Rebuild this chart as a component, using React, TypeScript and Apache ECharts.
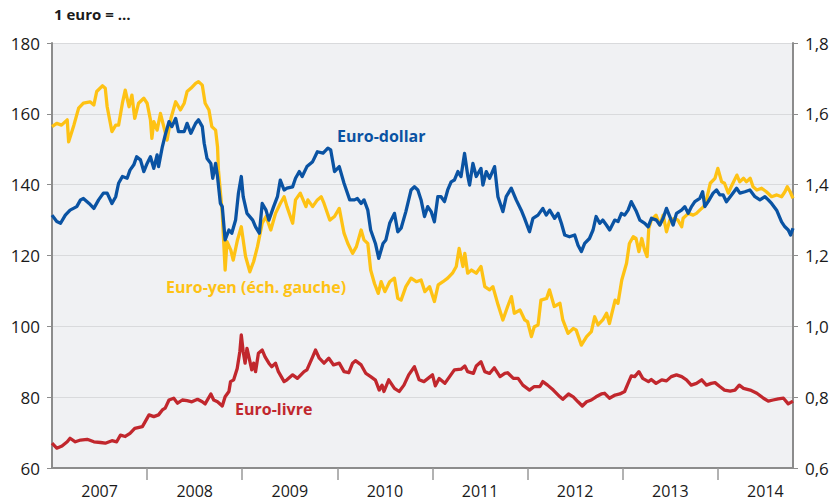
import React, { useEffect, useRef } from "react";
import * as echarts from "echarts";

// Time in decimal years
const yenT = [2007.0, 2007.05, 2007.1, 2007.16, 2007.175, 2007.23, 2007.28, 2007.33, 2007.4, 2007.44, 2007.47, 2007.53, 2007.56, 2007.58, 2007.63, 2007.67, 2007.7, 2007.74, 2007.77, 2007.81, 2007.84, 2007.87, 2007.91, 2007.965, 2008.0, 2008.035, 2008.05, 2008.07, 2008.105, 2008.14, 2008.175, 2008.21, 2008.25, 2008.3, 2008.35, 2008.39, 2008.42, 2008.46, 2008.51, 2008.54, 2008.58, 2008.61, 2008.65, 2008.68, 2008.72, 2008.74, 2008.75, 2008.79, 2008.82, 2008.84, 2008.88, 2008.905, 2008.95, 2008.99, 2009.035, 2009.08, 2009.12, 2009.16, 2009.21, 2009.25, 2009.3, 2009.35, 2009.4, 2009.44, 2009.47, 2009.53, 2009.56, 2009.61, 2009.67, 2009.69, 2009.74, 2009.79, 2009.83, 2009.86, 2009.92, 2009.97, 2010.02, 2010.07, 2010.11, 2010.16, 2010.2, 2010.25, 2010.28, 2010.32, 2010.35, 2010.39, 2010.43, 2010.46, 2010.5, 2010.55, 2010.6, 2010.635, 2010.67, 2010.72, 2010.775, 2010.83, 2010.88, 2010.92, 2010.97, 2011.02, 2011.06, 2011.11, 2011.16, 2011.21, 2011.25, 2011.28, 2011.32, 2011.34, 2011.37, 2011.41, 2011.46, 2011.51, 2011.55, 2011.6, 2011.635, 2011.69, 2011.74, 2011.79, 2011.83, 2011.86, 2011.92, 2011.97, 2012.0, 2012.04, 2012.07, 2012.11, 2012.14, 2012.2, 2012.23, 2012.28, 2012.34, 2012.37, 2012.425, 2012.48, 2012.51, 2012.565, 2012.62, 2012.67, 2012.705, 2012.74, 2012.79, 2012.83, 2012.86, 2012.92, 2012.95, 2012.99, 2013.04, 2013.07, 2013.11, 2013.14, 2013.17, 2013.2, 2013.23, 2013.256, 2013.274, 2013.3, 2013.35, 2013.39, 2013.425, 2013.46, 2013.495, 2013.55, 2013.58, 2013.62, 2013.635, 2013.69, 2013.74, 2013.775, 2013.81, 2013.85, 2013.88, 2013.92, 2013.97, 2014.0, 2014.04, 2014.07, 2014.11, 2014.14, 2014.2, 2014.23, 2014.27, 2014.3, 2014.34, 2014.37, 2014.41, 2014.46, 2014.51, 2014.565, 2014.62, 2014.67, 2014.705, 2014.73, 2014.76, 2014.79];
const yenV = [156.4, 157.3, 156.8, 158.3, 152.1, 156.8, 161.6, 163.0, 163.4, 162.5, 166.3, 167.9, 167.2, 162.0, 155.0, 156.8, 156.8, 163.0, 166.7, 162.0, 165.3, 158.7, 163.0, 164.4, 163.0, 158.3, 153.1, 157.8, 155.4, 160.1, 156.4, 152.6, 158.7, 163.4, 161.1, 163.0, 166.3, 167.2, 168.6, 169.1, 168.1, 163.0, 161.1, 156.4, 155.4, 150.7, 144.1, 131.9, 115.9, 123.9, 121.5, 118.7, 124.4, 128.1, 119.7, 115.4, 118.3, 122.5, 129.1, 131.0, 127.2, 131.9, 134.7, 136.6, 133.8, 129.1, 135.7, 137.6, 133.8, 135.7, 133.8, 135.7, 136.6, 134.7, 130.0, 131.0, 133.3, 126.3, 123.4, 120.6, 122.5, 127.2, 124.4, 123.4, 115.9, 112.1, 109.3, 112.6, 109.8, 112.6, 113.6, 107.9, 107.4, 111.2, 113.6, 112.6, 113.1, 109.8, 111.2, 107.0, 111.7, 112.6, 113.6, 115.0, 116.9, 122.0, 116.9, 120.6, 115.0, 115.9, 115.0, 116.9, 111.2, 110.3, 111.2, 106.0, 101.8, 105.6, 108.4, 103.7, 104.6, 101.8, 101.3, 97.1, 99.9, 100.4, 107.4, 107.9, 110.3, 105.6, 106.5, 101.8, 98.0, 99.4, 99.0, 94.7, 97.1, 98.5, 102.7, 100.4, 101.8, 103.7, 100.8, 107.4, 106.5, 113.1, 117.8, 123.4, 125.3, 124.8, 121.1, 124.8, 121.5, 119.7, 127.7, 130.0, 131.4, 128.6, 131.4, 126.7, 130.0, 130.5, 130.0, 128.1, 130.5, 131.9, 131.4, 131.9, 132.8, 133.8, 135.7, 140.4, 141.8, 144.6, 140.8, 140.4, 137.6, 139.4, 142.7, 140.8, 141.8, 140.8, 141.8, 139.4, 138.5, 139.0, 138.0, 136.6, 137.1, 136.6, 138.0, 139.4, 138.0, 136.1];

const usdT = [2007.0, 2007.05, 2007.09, 2007.14, 2007.19, 2007.26, 2007.3, 2007.33, 2007.39, 2007.44, 2007.49, 2007.54, 2007.58, 2007.63, 2007.67, 2007.7, 2007.74, 2007.79, 2007.82, 2007.86, 2007.89, 2007.93, 2007.965, 2008.0, 2008.035, 2008.07, 2008.105, 2008.12, 2008.16, 2008.19, 2008.23, 2008.26, 2008.3, 2008.33, 2008.39, 2008.42, 2008.46, 2008.51, 2008.54, 2008.58, 2008.6, 2008.63, 2008.67, 2008.69, 2008.72, 2008.74, 2008.77, 2008.79, 2008.82, 2008.86, 2008.89, 2008.93, 2008.96, 2008.99, 2009.01, 2009.05, 2009.11, 2009.14, 2009.18, 2009.21, 2009.25, 2009.28, 2009.33, 2009.37, 2009.4, 2009.44, 2009.47, 2009.53, 2009.56, 2009.6, 2009.63, 2009.68, 2009.74, 2009.79, 2009.85, 2009.9, 2009.93, 2009.97, 2010.02, 2010.07, 2010.13, 2010.18, 2010.21, 2010.25, 2010.28, 2010.32, 2010.35, 2010.4, 2010.435, 2010.48, 2010.51, 2010.55, 2010.6, 2010.635, 2010.67, 2010.72, 2010.775, 2010.81, 2010.846, 2010.88, 2010.916, 2010.95, 2010.986, 2011.02, 2011.056, 2011.09, 2011.126, 2011.16, 2011.196, 2011.23, 2011.267, 2011.3, 2011.337, 2011.372, 2011.39, 2011.425, 2011.46, 2011.51, 2011.53, 2011.565, 2011.6, 2011.653, 2011.688, 2011.74, 2011.775, 2011.828, 2011.88, 2011.933, 2011.968, 2012.02, 2012.056, 2012.109, 2012.16, 2012.196, 2012.232, 2012.284, 2012.32, 2012.355, 2012.39, 2012.44, 2012.495, 2012.53, 2012.565, 2012.6, 2012.65, 2012.688, 2012.72, 2012.758, 2012.79, 2012.828, 2012.863, 2012.916, 2012.951, 2012.986, 2013.02, 2013.056, 2013.09, 2013.144, 2013.18, 2013.232, 2013.267, 2013.302, 2013.354, 2013.39, 2013.425, 2013.46, 2013.495, 2013.53, 2013.565, 2013.618, 2013.653, 2013.688, 2013.723, 2013.758, 2013.81, 2013.84, 2013.863, 2013.898, 2013.95, 2013.986, 2014.02, 2014.056, 2014.09, 2014.144, 2014.197, 2014.232, 2014.284, 2014.337, 2014.39, 2014.442, 2014.495, 2014.53, 2014.565, 2014.618, 2014.67, 2014.705, 2014.74, 2014.765, 2014.79];
const usdV = [1.314, 1.296, 1.291, 1.314, 1.328, 1.338, 1.357, 1.361, 1.347, 1.333, 1.357, 1.376, 1.376, 1.347, 1.366, 1.404, 1.423, 1.418, 1.441, 1.456, 1.479, 1.47, 1.437, 1.46, 1.479, 1.446, 1.484, 1.451, 1.507, 1.54, 1.578, 1.564, 1.587, 1.55, 1.55, 1.573, 1.545, 1.573, 1.583, 1.564, 1.517, 1.474, 1.46, 1.418, 1.46, 1.423, 1.347, 1.338, 1.244, 1.272, 1.263, 1.3, 1.376, 1.423, 1.366, 1.319, 1.3, 1.281, 1.263, 1.347, 1.328, 1.3, 1.338, 1.366, 1.413, 1.385, 1.39, 1.394, 1.418, 1.437, 1.423, 1.451, 1.465, 1.493, 1.489, 1.503, 1.498, 1.437, 1.451, 1.404, 1.357, 1.357, 1.361, 1.347, 1.357, 1.328, 1.272, 1.234, 1.192, 1.234, 1.244, 1.291, 1.319, 1.267, 1.277, 1.324, 1.385, 1.394, 1.385, 1.357, 1.31, 1.338, 1.324, 1.295, 1.366, 1.366, 1.352, 1.385, 1.408, 1.413, 1.437, 1.423, 1.488, 1.423, 1.399, 1.46, 1.423, 1.446, 1.399, 1.437, 1.418, 1.451, 1.366, 1.324, 1.366, 1.39, 1.357, 1.328, 1.305, 1.267, 1.305, 1.314, 1.333, 1.314, 1.328, 1.305, 1.319, 1.291, 1.258, 1.253, 1.258, 1.229, 1.211, 1.234, 1.248, 1.272, 1.31, 1.291, 1.3, 1.286, 1.272, 1.3, 1.296, 1.319, 1.314, 1.328, 1.352, 1.324, 1.3, 1.291, 1.281, 1.305, 1.3, 1.286, 1.305, 1.333, 1.31, 1.286, 1.319, 1.328, 1.338, 1.319, 1.338, 1.352, 1.361, 1.38, 1.338, 1.352, 1.376, 1.385, 1.371, 1.371, 1.352, 1.371, 1.39, 1.376, 1.38, 1.385, 1.366, 1.357, 1.366, 1.357, 1.347, 1.328, 1.295, 1.281, 1.272, 1.258, 1.277];

const gbpT = [2007.0, 2007.05, 2007.105, 2007.16, 2007.19, 2007.245, 2007.3, 2007.37, 2007.44, 2007.51, 2007.56, 2007.63, 2007.68, 2007.72, 2007.77, 2007.82, 2007.87, 2007.95, 2007.98, 2008.02, 2008.07, 2008.12, 2008.16, 2008.19, 2008.23, 2008.28, 2008.32, 2008.37, 2008.42, 2008.47, 2008.53, 2008.58, 2008.61, 2008.67, 2008.7, 2008.74, 2008.79, 2008.82, 2008.86, 2008.877, 2008.91, 2008.947, 2008.975, 2008.99, 2009.01, 2009.03, 2009.05, 2009.07, 2009.1, 2009.12, 2009.14, 2009.17, 2009.21, 2009.24, 2009.28, 2009.31, 2009.35, 2009.38, 2009.44, 2009.47, 2009.53, 2009.58, 2009.65, 2009.68, 2009.74, 2009.77, 2009.81, 2009.86, 2009.91, 2009.96, 2010.02, 2010.07, 2010.12, 2010.16, 2010.19, 2010.25, 2010.3, 2010.35, 2010.4, 2010.44, 2010.47, 2010.49, 2010.54, 2010.6, 2010.65, 2010.7, 2010.75, 2010.81, 2010.86, 2010.91, 2011.0, 2011.03, 2011.07, 2011.13, 2011.18, 2011.23, 2011.3, 2011.34, 2011.37, 2011.43, 2011.46, 2011.51, 2011.55, 2011.6, 2011.65, 2011.71, 2011.76, 2011.79, 2011.85, 2011.9, 2011.95, 2012.02, 2012.07, 2012.13, 2012.16, 2012.21, 2012.27, 2012.34, 2012.37, 2012.43, 2012.48, 2012.53, 2012.575, 2012.62, 2012.67, 2012.72, 2012.775, 2012.81, 2012.86, 2012.92, 2012.97, 2013.02, 2013.056, 2013.09, 2013.126, 2013.17, 2013.21, 2013.27, 2013.3, 2013.35, 2013.41, 2013.46, 2013.51, 2013.565, 2013.62, 2013.67, 2013.72, 2013.775, 2013.83, 2013.88, 2013.93, 2013.97, 2014.02, 2014.07, 2014.13, 2014.18, 2014.225, 2014.27, 2014.34, 2014.41, 2014.48, 2014.53, 2014.58, 2014.635, 2014.69, 2014.74, 2014.79];
const gbpV = [0.67, 0.656, 0.662, 0.674, 0.684, 0.674, 0.679, 0.681, 0.674, 0.672, 0.67, 0.677, 0.674, 0.693, 0.689, 0.698, 0.712, 0.717, 0.731, 0.75, 0.745, 0.75, 0.764, 0.769, 0.792, 0.797, 0.783, 0.792, 0.79, 0.787, 0.794, 0.787, 0.781, 0.809, 0.792, 0.787, 0.775, 0.801, 0.816, 0.844, 0.849, 0.881, 0.929, 0.976, 0.929, 0.896, 0.938, 0.914, 0.877, 0.896, 0.872, 0.924, 0.933, 0.914, 0.896, 0.886, 0.896, 0.872, 0.844, 0.849, 0.863, 0.853, 0.872, 0.877, 0.914, 0.933, 0.91, 0.896, 0.91, 0.891, 0.896, 0.872, 0.869, 0.896, 0.903, 0.891, 0.867, 0.858, 0.848, 0.82, 0.834, 0.816, 0.849, 0.825, 0.816, 0.834, 0.863, 0.886, 0.849, 0.844, 0.863, 0.832, 0.853, 0.839, 0.858, 0.877, 0.879, 0.888, 0.872, 0.867, 0.888, 0.9, 0.872, 0.867, 0.883, 0.858, 0.867, 0.869, 0.853, 0.853, 0.834, 0.82, 0.83, 0.83, 0.844, 0.834, 0.82, 0.801, 0.794, 0.809, 0.801, 0.787, 0.775, 0.787, 0.792, 0.801, 0.809, 0.811, 0.797, 0.806, 0.809, 0.816, 0.839, 0.86, 0.858, 0.872, 0.853, 0.844, 0.85, 0.839, 0.849, 0.846, 0.858, 0.863, 0.858, 0.849, 0.834, 0.839, 0.849, 0.834, 0.839, 0.841, 0.83, 0.82, 0.817, 0.82, 0.834, 0.825, 0.82, 0.811, 0.797, 0.789, 0.792, 0.795, 0.797, 0.781, 0.789];

const yearTicks = [2008, 2009, 2010, 2011, 2012, 2013, 2014];
const yearLabelPos = [2007.5, 2008.5, 2009.5, 2010.5, 2011.5, 2012.5, 2013.5, 2014.5];

const FONT = "'Open Sans', 'Noto Sans', sans-serif";

function zip(t: number[], v: number[]) {
  return t.map((x, i) => [x, v[i]]);
}

export default function App() {
  const ref = useRef<HTMLDivElement>(null);
  useEffect(() => {
    if (!ref.current) return;
    const chart = echarts.init(ref.current, undefined, { renderer: "svg" });
    const axisGray = "#8c8c8c";
    chart.setOption({
      animation: false,
      backgroundColor: "#ffffff",
      grid: {
        left: 52,
        right: 43,
        top: 43,
        bottom: 33,
        show: true,
        backgroundColor: "#f0f1f3",
        borderWidth: 0,
      },
      xAxis: {
        type: "value",
        min: 2007,
        max: 2014.79,
        axisLine: { show: true, lineStyle: { color: axisGray, width: 2 } },
        axisTick: {
          show: true,
          customValues: yearTicks,
          length: 12,
          lineStyle: { color: "#999", width: 1.5 },
        },
        axisLabel: {
          customValues: yearLabelPos,
          formatter: (v: number) => String(Math.floor(v)),
          fontSize: 16,
          lineHeight: 16,
          color: "#1a1a1a",
          fontFamily: FONT,
          margin: 15,
        },
        splitLine: { show: false },
      },
      yAxis: [
        {
          type: "value",
          min: 60,
          max: 180,
          interval: 20,
          position: "left",
          axisLine: { show: true, lineStyle: { color: axisGray, width: 2 } },
          axisTick: { show: true, length: 5, lineStyle: { color: axisGray } },
          axisLabel: { fontSize: 17, color: "#1a1a1a", fontFamily: FONT, margin: 12 },
          splitLine: { show: true, lineStyle: { color: "#d9dadc", width: 1.2 } },
        },
        {
          type: "value",
          min: 0.6,
          max: 1.8,
          interval: 0.2,
          position: "right",
          axisLine: { show: true, lineStyle: { color: axisGray, width: 2 } },
          axisTick: { show: true, length: 5, lineStyle: { color: axisGray } },
          axisLabel: {
            fontSize: 17,
            color: "#1a1a1a",
            fontFamily: FONT,
            margin: 12,
            formatter: (v: number) => v.toFixed(1).replace(".", ","),
          },
          splitLine: { show: false },
        },
      ],
      series: [
        {
          name: "Euro-yen",
          type: "line",
          yAxisIndex: 0,
          data: zip(yenT, yenV),
          showSymbol: false,
          lineStyle: { color: "#fec214", width: 3.3, join: "round" },
          z: 2,
        },
        {
          name: "Euro-dollar",
          type: "line",
          yAxisIndex: 1,
          data: zip(usdT, usdV),
          showSymbol: false,
          lineStyle: { color: "#0a53a3", width: 3.3, join: "round" },
          z: 3,
        },
        {
          name: "Euro-livre",
          type: "line",
          yAxisIndex: 1,
          data: zip(gbpT, gbpV),
          showSymbol: false,
          lineStyle: { color: "#c1272d", width: 3.3, join: "round" },
          z: 4,
        },
      ],
      graphic: [
        {
          type: "text",
          left: 54,
          top: 6,
          style: { text: "1 euro = …", fontSize: 15, fontWeight: "bold", fill: "#1a1a1a", fontFamily: FONT },
        },
        {
          type: "text",
          left: 337,
          top: 128,
          style: { text: "Euro-dollar", fontSize: 16, fontWeight: "bold", fill: "#0a53a3", fontFamily: FONT },
        },
        {
          type: "text",
          left: 166,
          top: 279,
          style: { text: "Euro-yen (éch. gauche)", fontSize: 16, fontWeight: "bold", fill: "#fec214", fontFamily: FONT },
        },
        {
          type: "text",
          left: 235,
          top: 401,
          style: { text: "Euro-livre", fontSize: 16, fontWeight: "bold", fill: "#c1272d", fontFamily: FONT },
        },
      ],
    });
    return () => chart.dispose();
  }, []);
  return <div ref={ref} style={{ width: 836, height: 501, position: "absolute", left: 0, top: 0 }} />;
}
